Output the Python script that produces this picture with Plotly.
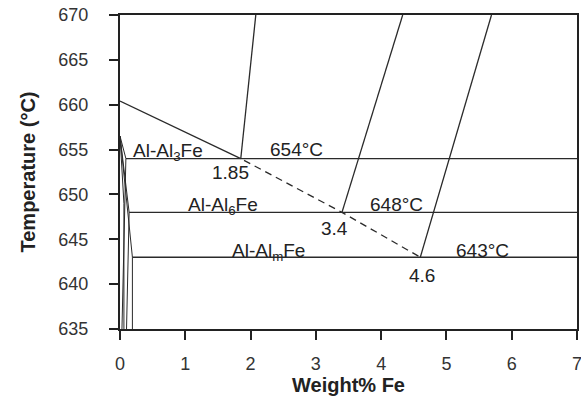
import plotly.graph_objects as go

# Data
liquidus_x = [0.0, 1.85]
liquidus_y = [660.4, 654.0]
metastable_x = [1.9, 3.4, 4.6]
metastable_y = [653.8, 648.0, 643.0]
eutectic_T = [654, 648, 643]
eutectic_x0 = [0.09, 0.14, 0.19]
eutectic_x1 = [7.0, 7.0, 7.0]
phase_x0 = [1.85, 3.4, 4.6]
phase_y0 = [654, 648, 643]
phase_x1 = [2.08, 4.33, 5.69]
phase_y1 = [670, 670, 670]
solvus_lines = [
    ([0.0, 0.09, 0.03], [656.5, 654, 635]),
    ([0.0, 0.06, 0.06], [656.5, 649, 635]),
    ([0.0, 0.14, 0.1], [656.5, 648, 635]),
    ([0.0, 0.19, 0.19], [656.5, 643, 635]),
]
label_text = ["Al-Al<sub>3</sub>Fe", "654°C", "1.85", "Al-Al<sub>6</sub>Fe", "648°C",
              "3.4", "Al-Al<sub>m</sub>Fe", "643°C", "4.6"]
label_x = [0.73, 2.70, 1.69, 1.57, 4.24, 3.29, 2.27, 5.56, 4.62]
label_y = [654.75, 655.05, 652.4, 648.7, 648.85, 646.2, 643.6, 643.8, 641.0]
x_ticks = [0, 1, 2, 3, 4, 5, 6, 7]
y_ticks = [635, 640, 645, 650, 655, 660, 665, 670]

LC = "#2a2a2a"
FONT = "Liberation Sans, Arial"
fig = go.Figure()

def add_line(xs, ys, dash="solid", width=1.3):
    fig.add_trace(go.Scatter(x=xs, y=ys, mode="lines",
                             line=dict(color=LC, width=width, dash=dash),
                             showlegend=False, hoverinfo="skip"))

add_line(liquidus_x, liquidus_y)
add_line(metastable_x, metastable_y, dash="7px,5px")
for T, a, b in zip(eutectic_T, eutectic_x0, eutectic_x1):
    add_line([a, b], [T, T])
for xa, ya, xb, yb in zip(phase_x0, phase_y0, phase_x1, phase_y1):
    add_line([xa, xb], [ya, yb])
for xs, ys in solvus_lines:
    add_line(xs, ys, width=1.0)

for t, x, y in zip(label_text, label_x, label_y):
    fig.add_annotation(x=x, y=y, text=t, showarrow=False,
                       font=dict(family=FONT, size=19, color="#222"),
                       xanchor="center", yanchor="middle")

axis_common = dict(showgrid=False, zeroline=False, showline=True, linecolor="#222",
                   linewidth=2, mirror=True, ticks="outside", ticklen=9,
                   tickwidth=2, tickcolor="#222", automargin=False,
                   ticklabeloverflow="allow",
                   tickfont=dict(family=FONT, size=18, color="#333"))

fig.update_xaxes(range=[0, 7], tickvals=x_ticks, ticklabelstandoff=8, **axis_common,
                 title=dict(text="<b>Weight% Fe</b>", standoff=5,
                            font=dict(family=FONT, size=20, color="#222")))
fig.update_yaxes(range=[635, 670], tickvals=y_ticks, ticklabelstandoff=17, **axis_common,
                 title=dict(text="<b>Temperature (°C)</b>", standoff=17,
                            font=dict(family=FONT, size=20, color="#222")))

fig.update_layout(width=581, height=409, margin=dict(l=120, r=4, t=15, b=80),
                  paper_bgcolor="white", plot_bgcolor="white")

post = ("document.body.style.margin='0';"
        "document.documentElement.style.overflow='hidden';"
        "document.body.style.overflow='hidden';")
fig.write_html("out.html", post_script=post, config={"displayModeBar": False})
